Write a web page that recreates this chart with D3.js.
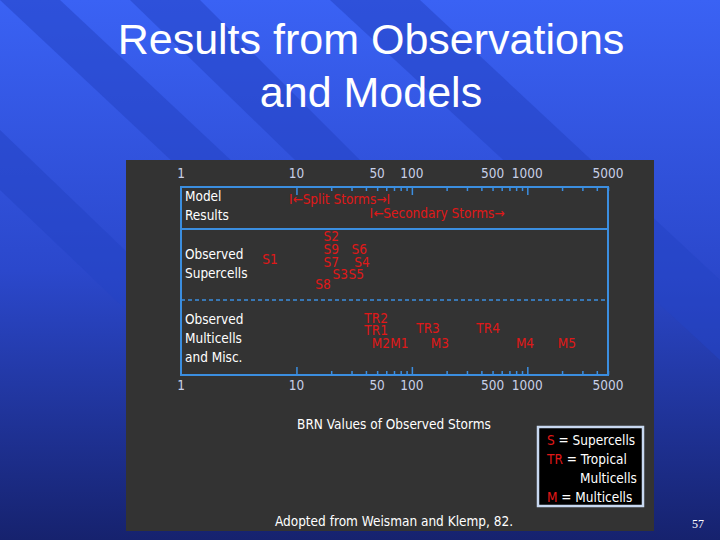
<!DOCTYPE html>
<html><head><meta charset="utf-8">
<script src="https://cdn.jsdelivr.net/npm/d3@7"></script>
<style>body{margin:0;overflow:hidden}svg{display:block}</style>
</head><body>
<svg id="c" width="720" height="540"></svg>
<script>
const tickLabels = [1, 10, 50, 100, 500, 1000, 5000];
const minorTicks = [10,20,30,40,50,60,70,80,90,100,200,300,400,500,600,700,800,900,1000,2000,3000,4000,5000];
const rowLabels = [["Model","Results"],["Observed","Supercells"],["Observed","Multicells","and Misc."]];
const storms = ["S1","S2","S9","S7","S3","S8","S6","S4","S5","TR2","TR1","M2","M1","TR3","M3","TR4","M4","M5"];
const brn    = [5.9, 20, 20, 20, 24, 17, 35, 37, 33, 49, 49, 54, 78, 138, 175, 458, 955, 2200];
const level  = [2, 0, 1, 2, 3, 4, 1, 2, 3, 0, 1, 2, 2, 1, 2, 1, 2, 2];
const group  = [1,1,1,1,1,1,1,1,1,2,2,2,2,2,2,2,2,2];
const legendItems = [["S"," = Supercells"],["TR"," = Tropical"],[""," Multicells"],["M"," = Multicells"]];

const svg = d3.select("#c");
const defs = svg.append("defs");
const g = defs.append("linearGradient").attr("id","bg").attr("x1",0).attr("y1",0).attr("x2",0).attr("y2",1);
g.append("stop").attr("offset","0").attr("stop-color","#3a62f4");
g.append("stop").attr("offset","0.5").attr("stop-color","#2b48cc");
g.append("stop").attr("offset","1").attr("stop-color","#16226e");
svg.append("rect").attr("width",720).attr("height",540).attr("fill","url(#bg)");
[[0,0,60,0,380,300,320,300],[130,0,200,0,520,320,460,320],[330,0,420,0,720,280,720,360],[0,130,0,190,200,380,260,380]].forEach(p=>{
  svg.append("polygon").attr("points",[[p[0],p[1]],[p[2],p[3]],[p[4],p[5]],[p[6],p[7]]].map(d=>d.join(",")).join(" "))
    .attr("fill","#2444c4").attr("opacity",0.55);
});
svg.append("text").attr("x",371).attr("y",54).attr("text-anchor","middle").attr("fill","#fff")
  .attr("font-family","Liberation Sans, Arial").attr("font-size",43).text("Results from Observations");
svg.append("text").attr("x",371).attr("y",107).attr("text-anchor","middle").attr("fill","#fff")
  .attr("font-family","Liberation Sans, Arial").attr("font-size",43).text("and Models");
svg.append("text").attr("x",698).attr("y",528).attr("text-anchor","middle").attr("fill","#fff")
  .attr("font-family","Liberation Serif, serif").attr("font-size",12).text("57");

svg.append("rect").attr("x",126).attr("y",160).attr("width",528).attr("height",371).attr("fill","#333333");

const x = d3.scaleLog().domain([1,5000]).range([181,608]);
const yTop = 187, yBot = 375, sep1 = 229, sep2 = 300;
const font = "DejaVu Sans Condensed, Liberation Sans, Arial";
const fs = 13.5;
const blue = "#3b8ee0";
const red = "#e01818";

svg.append("rect").attr("x",x(1)).attr("y",yTop).attr("width",x(5000)-x(1)).attr("height",yBot-yTop)
  .attr("fill","none").attr("stroke",blue).attr("stroke-width",2);
svg.append("line").attr("x1",x(1)).attr("x2",x(5000)).attr("y1",sep1).attr("y2",sep1).attr("stroke",blue).attr("stroke-width",2);
svg.append("line").attr("x1",x(1)).attr("x2",x(5000)).attr("y1",sep2).attr("y2",sep2).attr("stroke",blue).attr("stroke-width",1.5).attr("stroke-dasharray","4,3");

const axT = d3.axisBottom(x).tickValues(minorTicks).tickSize(4).tickFormat("");
const axB = d3.axisTop(x).tickValues(minorTicks).tickSize(4).tickFormat("");
[ [axT, yTop], [axB, yBot] ].forEach(([ax,y])=>{
  const a = svg.append("g").attr("transform",`translate(0,${y})`).call(ax);
  a.select(".domain").remove();
  a.selectAll("line").attr("stroke",blue).attr("stroke-width",1.5)
    .attr("y2", d => ([10,100,1000].includes(d) ? (y===yTop?8:-8) : (y===yTop?4:-4)));
});
[178,390].forEach(y=>{
  svg.append("g").selectAll("text").data(tickLabels).join("text")
    .attr("x",d=>x(d)).attr("y",y).attr("text-anchor","middle").attr("fill","#c8d0e8")
    .attr("font-family",font).attr("font-size",fs).text(d=>d);
});

const rowY = [[201,220],[259,278],[324,343,362]];
rowLabels.forEach((r,i)=>r.forEach((t,j)=>{
  svg.append("text").attr("x",185).attr("y",rowY[i][j]).attr("fill","#fff")
    .attr("font-family",font).attr("font-size",fs).text(t);
}));

svg.append("text").attr("x",x(8.6)).attr("y",204).attr("fill",red).attr("font-family",font).attr("font-size",fs).text("I←Split Storms→I");
svg.append("text").attr("x",x(43)).attr("y",218).attr("fill",red).attr("font-family",font).attr("font-size",fs).text("I←Secondary Storms→");

const baseY = {1:[241,254,267,279,289], 2:[323,335,348]};
svg.append("g").selectAll("text").data(storms).join("text")
  .attr("x",(d,i)=>x(brn[i])).attr("y",(d,i)=>group[i]===1 ? (storms[i]==="S1"?264:baseY[1][level[i]]) : (storms[i]==="TR3"||storms[i]==="TR4" ? 333 : baseY[2][level[i]]))
  .attr("text-anchor","middle").attr("fill",red).attr("font-family",font).attr("font-size",fs).text(d=>d);

svg.append("text").attr("x",394).attr("y",429).attr("text-anchor","middle").attr("fill","#fff")
  .attr("font-family",font).attr("font-size",fs).text("BRN Values of Observed Storms");
svg.append("text").attr("x",394).attr("y",526).attr("text-anchor","middle").attr("fill","#fff")
  .attr("font-family",font).attr("font-size",fs).text("Adopted from Weisman and Klemp, 82.");

svg.append("rect").attr("x",538).attr("y",427).attr("width",105).attr("height",79).attr("fill","#000")
  .attr("stroke","#c8d8f0").attr("stroke-width",2.5);
legendItems.forEach((it,i)=>{
  const t = svg.append("text").attr("x",i===2?580:547).attr("y",445+i*19).attr("font-family",font).attr("font-size",fs);
  if(it[0]) t.append("tspan").attr("fill",red).text(it[0]);
  t.append("tspan").attr("fill","#fff").text(it[1]);
});
</script>
</body></html>
